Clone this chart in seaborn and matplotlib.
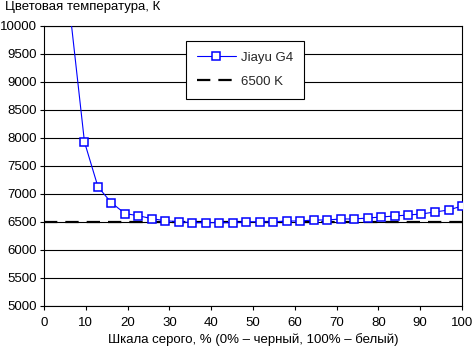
import matplotlib
matplotlib.use("Agg")
import matplotlib.pyplot as plt
import seaborn as sns
import pandas as pd

gray_levels = [0, 3.2, 6.45, 9.68, 12.9, 16.1, 19.4, 22.6, 25.8, 29.0, 32.3,
               35.5, 38.7, 41.9, 45.2, 48.4, 51.6, 54.8, 58.1, 61.3, 64.5,
               67.7, 71.0, 74.2, 77.4, 80.6, 83.9, 87.1, 90.3, 93.5, 96.8, 100]
temperature = [14000, 12000, 10100, 7930, 7130, 6845, 6650, 6612, 6559, 6523,
               6505, 6488, 6488, 6488, 6488, 6505, 6505, 6500, 6518, 6518,
               6536, 6536, 6554, 6554, 6571, 6589, 6607, 6625, 6643, 6679,
               6714, 6786]
ref_x = [0, 100]
ref_y = [6500, 6500]
series_name = "Jiayu G4"
ref_name = "6500 K"

sns.set_style("white")
plt.rcParams['font.family'] = ['Liberation Sans', 'DejaVu Sans']
FS = 9.5

fig = plt.figure(figsize=(4.72, 3.49), dpi=100)
ax = fig.add_axes([44/472, 43/349, 418/472, 280/349])

df = pd.DataFrame({"x": gray_levels, "y": temperature})
dref = pd.DataFrame({"x": ref_x, "y": ref_y})

sns.lineplot(data=dref, x="x", y="y", ax=ax, color="black", linewidth=1.6,
             dashes=False, label=ref_name, zorder=3)
ax.lines[-1].set_dashes([6, 3.6])
sns.lineplot(data=df, x="x", y="y", ax=ax, color="#0000FF", linewidth=0.8,
             marker="s", markersize=6.2, markerfacecolor="white",
             markeredgecolor="#0000FF", markeredgewidth=1.1, label=series_name,
             zorder=4)

ax.set_xlim(0, 100)
ax.set_ylim(5000, 10000)
ax.set_xticks(range(0, 101, 10))
ax.set_yticks(range(5000, 10001, 500))
ax.grid(axis="y", color="black", linewidth=0.8)
ax.grid(axis="x", visible=False)
ax.set_axisbelow(True)
for s in ax.spines.values():
    s.set_color("black")
    s.set_linewidth(0.8)
ax.tick_params(axis="both", direction="out", length=3, width=0.8, color="black",
               labelsize=FS, left=True, bottom=True, labelcolor="black")
ax.tick_params(axis="y", pad=2)
ax.tick_params(axis="x", pad=5)
ax.set_xlabel("Шкала серого, % (0% – черный, 100% – белый)", fontsize=FS,
              labelpad=3, color="black")
ax.set_ylabel("")
fig.text(5/472, 1 - 7/349, "Цветовая температура, К", fontsize=FS,
         va="center", ha="left", color="black")

h, l = ax.get_legend_handles_labels()
order = [l.index(series_name), l.index(ref_name)]
leg = ax.legend([h[i] for i in order], [l[i] for i in order],
                loc="upper left", bbox_to_anchor=(0.34, 0.946),
                frameon=True, fancybox=False, fontsize=FS, handlelength=3.0,
                labelspacing=0.9, borderpad=0.8, handletextpad=0.35,
                borderaxespad=0)
leg.get_frame().set_edgecolor("black")
leg.get_frame().set_linewidth(0.8)
leg.get_frame().set_facecolor("white")
leg.get_frame().set_alpha(1)

fig.savefig("out.png", dpi=100, facecolor="white")
